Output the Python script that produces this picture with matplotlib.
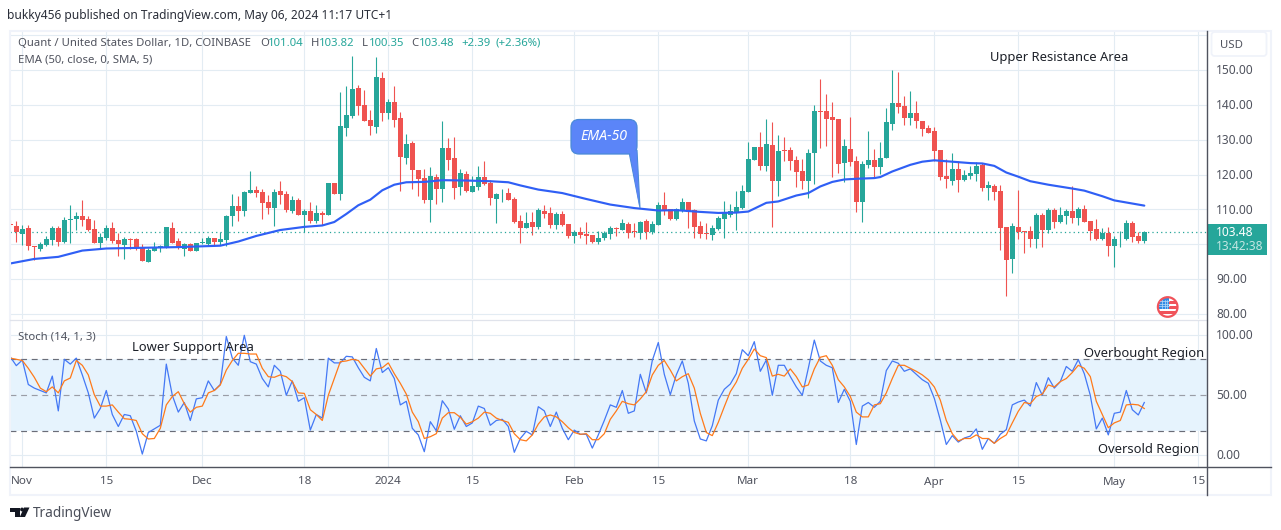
"""Quant / USD daily candles with EMA-50 and a stochastic pane, TradingView style."""

import numpy as np
import pandas as pd
import matplotlib
matplotlib.use("Agg")
import matplotlib.pyplot as plt
from matplotlib.patches import FancyBboxPatch, Polygon, Circle, Rectangle

plt.rcParams["font.family"] = ["Noto Sans", "DejaVu Sans"]

start_date = "2023-10-30"

opens = [
    105.6, 105.3, 103.1, 104.8, 99.6, 98.7, 99.9, 101.3, 104.8, 100.7,
    106.9, 107.3, 108.2, 107.3, 104.5, 100.4, 101.9, 104.8, 101.3, 99.9,
    101.6, 101.6, 99.3, 95.0, 98.1, 99.0, 99.0, 104.8, 101.0, 98.7,
    100.2, 98.2, 100.3, 100.2, 101.9, 100.7, 101.3, 108.0, 111.1, 109.6,
    114.8, 115.7, 115.1, 112.2, 110.5, 115.4, 114.5, 109.6, 112.8, 108.5,
    109.6, 106.8, 109.1, 108.5, 117.7, 114.5, 133.5, 136.9, 144.9, 140.1,
    135.8, 133.7, 147.8, 137.8, 140.9, 136.3, 124.8, 129.2, 121.4, 119.1,
    112.8, 119.4, 116.0, 127.7, 124.9, 116.5, 120.3, 115.1, 116.5, 119.4,
    117.7, 113.1, 114.6, 114.8, 113.1, 106.8, 104.8, 106.5, 105.0, 109.6,
    109.1, 105.6, 108.8, 105.9, 102.5, 103.6, 103.0, 102.7, 100.7, 101.9,
    103.0, 104.5, 104.2, 105.9, 103.9, 103.3, 106.8, 103.6, 105.6, 111.4,
    110.2, 107.3, 109.6, 112.2, 109.9, 105.3, 103.3, 102.7, 104.5, 107.3,
    108.5, 109.1, 110.5, 115.1, 124.3, 128.0, 122.6, 128.6, 118.2, 127.2,
    127.2, 124.3, 121.1, 118.2, 126.3, 138.3, 138.3, 136.6, 136.0, 123.4,
    127.4, 124.0, 112.2, 122.8, 124.3, 122.3, 124.9, 134.6, 140.4, 139.8,
    136.3, 137.8, 135.5, 133.5, 132.6, 127.2, 119.7, 118.2, 121.7, 118.5,
    119.7, 120.3, 122.8, 116.2, 116.8, 115.4, 105.0, 95.9, 105.0, 103.8,
    103.9, 101.6, 108.5, 104.2, 109.9, 106.5, 108.2, 109.6, 107.6, 110.2,
    106.8, 104.5, 101.6, 103.3, 99.6, 101.7, 101.6, 106.2, 102.5, 101.04,
]
highs = [
    107.0, 106.6, 105.6, 105.6, 99.6, 100.6, 102.3, 105.2, 105.2, 107.7,
    111.4, 109.4, 112.8, 108.2, 107.0, 103.2, 105.6, 106.3, 103.2, 102.1,
    101.8, 101.8, 100.2, 98.9, 100.7, 99.9, 105.0, 106.3, 101.8, 100.4,
    100.4, 100.4, 101.8, 102.5, 101.9, 103.6, 108.5, 114.5, 113.9, 115.4,
    121.1, 116.8, 115.9, 114.2, 116.0, 118.2, 115.4, 113.9, 113.3, 110.2,
    112.2, 111.4, 109.6, 117.7, 117.7, 143.8, 145.3, 154.1, 145.8, 144.4,
    138.6, 153.6, 149.5, 141.8, 145.5, 138.1, 131.7, 129.7, 121.4, 121.7,
    122.3, 120.3, 135.5, 130.6, 130.9, 121.7, 121.1, 119.7, 122.6, 124.0,
    118.5, 114.8, 116.0, 116.2, 113.7, 108.5, 109.3, 109.3, 110.5, 111.4,
    110.8, 109.3, 109.6, 105.9, 104.2, 105.0, 106.5, 102.7, 103.9, 103.9,
    105.3, 105.0, 107.3, 106.5, 106.2, 106.8, 107.3, 106.8, 112.2, 115.1,
    110.2, 110.5, 113.4, 112.2, 110.2, 106.8, 106.2, 105.6, 108.2, 112.5,
    111.6, 115.4, 117.1, 129.4, 128.0, 132.3, 136.0, 135.2, 131.4, 130.9,
    128.0, 125.4, 124.6, 127.4, 140.1, 147.5, 143.2, 140.9, 136.0, 130.3,
    136.6, 125.4, 124.0, 132.6, 127.4, 129.4, 139.2, 150.1, 149.5, 142.6,
    144.1, 141.2, 135.5, 134.3, 133.7, 127.2, 124.6, 126.3, 124.0, 121.4,
    122.6, 123.7, 123.4, 118.2, 117.4, 117.1, 105.0, 106.2, 115.7, 103.8,
    105.3, 109.1, 109.1, 110.5, 110.5, 110.8, 110.2, 116.8, 110.8, 111.4,
    106.8, 107.3, 104.8, 105.0, 102.5, 103.9, 107.0, 106.8, 103.6, 103.82,
]
lows = [
    105.2, 100.7, 99.9, 98.4, 95.6, 98.2, 99.4, 99.9, 99.4, 100.3,
    100.5, 104.2, 105.3, 103.9, 100.4, 98.6, 101.3, 100.3, 96.7, 95.9,
    98.7, 98.4, 95.1, 95.0, 98.0, 97.7, 99.0, 100.3, 98.7, 96.7,
    98.0, 98.0, 100.2, 99.4, 99.6, 99.9, 99.4, 105.3, 106.6, 108.2,
    114.7, 113.5, 107.3, 108.8, 105.3, 111.6, 109.4, 109.0, 108.5, 103.6,
    106.2, 106.1, 105.6, 108.5, 114.5, 112.8, 131.2, 136.3, 137.2, 135.5,
    131.5, 132.0, 135.5, 136.0, 133.7, 115.4, 123.1, 116.0, 113.9, 111.9,
    106.5, 111.6, 112.2, 121.4, 113.1, 114.2, 115.1, 115.1, 115.7, 117.1,
    111.4, 106.2, 112.2, 112.8, 106.2, 100.4, 104.6, 102.7, 104.5, 107.6,
    104.8, 104.5, 105.2, 101.9, 100.4, 101.9, 100.2, 100.4, 100.2, 101.3,
    101.6, 102.5, 104.2, 101.9, 102.2, 101.6, 101.6, 103.0, 105.6, 108.5,
    107.0, 107.0, 109.3, 104.8, 101.9, 101.9, 101.6, 101.3, 104.2, 101.9,
    107.9, 104.2, 110.2, 115.1, 124.3, 121.4, 121.1, 105.0, 113.9, 124.0,
    121.4, 116.5, 116.0, 113.4, 117.4, 127.7, 128.3, 119.4, 120.4, 118.0,
    122.6, 109.4, 106.5, 122.0, 119.1, 120.3, 124.9, 132.9, 137.8, 134.3,
    134.3, 133.5, 131.2, 132.0, 124.0, 118.5, 116.2, 117.1, 115.1, 118.2,
    118.8, 118.2, 115.4, 112.8, 112.8, 98.4, 85.2, 91.8, 101.6, 97.6,
    99.3, 99.0, 99.3, 103.3, 104.8, 106.2, 105.9, 106.2, 105.6, 106.5,
    101.3, 101.3, 101.3, 96.7, 93.6, 99.3, 101.3, 100.7, 100.4, 100.35,
]
closes = [
    105.5, 103.4, 104.5, 99.4, 99.2, 100.2, 101.6, 104.8, 100.7, 107.0,
    107.3, 108.2, 107.0, 104.2, 100.4, 102.2, 104.8, 101.0, 100.2, 101.6,
    101.3, 99.0, 95.1, 98.4, 99.0, 99.6, 105.0, 100.4, 99.0, 100.2,
    98.2, 100.4, 100.4, 101.9, 100.7, 101.6, 108.2, 111.1, 109.6, 115.1,
    115.7, 114.8, 111.9, 110.5, 115.1, 114.2, 109.8, 112.8, 108.5, 109.6,
    106.8, 109.1, 108.5, 117.7, 114.5, 134.0, 137.2, 144.7, 139.8, 135.5,
    134.0, 148.1, 137.8, 140.9, 135.8, 125.1, 128.9, 121.4, 118.8, 112.8,
    119.7, 116.0, 127.7, 124.3, 116.2, 120.5, 115.4, 116.8, 119.4, 117.4,
    113.4, 114.5, 114.8, 112.8, 106.5, 104.8, 106.2, 105.0, 109.9, 108.8,
    105.6, 108.8, 105.6, 102.5, 103.6, 102.7, 102.5, 100.7, 101.9, 103.3,
    104.8, 104.3, 106.2, 103.3, 103.6, 106.5, 103.6, 105.9, 111.4, 109.6,
    107.3, 110.2, 112.2, 109.3, 105.0, 103.0, 103.0, 104.8, 107.6, 109.1,
    109.6, 110.8, 115.4, 124.6, 128.0, 122.6, 128.9, 118.2, 126.9, 126.9,
    124.0, 120.8, 118.2, 126.3, 138.3, 138.1, 136.0, 135.8, 123.1, 128.3,
    123.7, 112.2, 123.1, 124.3, 122.3, 124.9, 135.2, 140.4, 139.5, 136.3,
    137.8, 135.5, 133.2, 132.0, 126.9, 119.4, 118.8, 121.7, 118.5, 119.9,
    120.5, 122.6, 116.2, 117.1, 115.1, 104.8, 95.6, 105.3, 103.6, 103.6,
    101.6, 108.5, 104.2, 109.9, 106.5, 108.5, 109.6, 107.6, 110.2, 106.5,
    103.9, 101.6, 103.3, 99.6, 101.6, 101.9, 106.2, 102.2, 101.0, 103.48,
]

# EMA vertices (bar number, price)
ema_bars = [0, 4, 8, 12, 16, 22, 28, 35, 38, 41, 45, 49, 52, 54, 56, 58, 60, 62, 64, 66, 69,
            72, 76, 80, 83, 85, 88, 92, 96, 100, 104, 108, 111, 115, 118, 121, 123, 126, 128,
            131, 133, 135, 137, 139, 141, 144, 145, 147, 150, 152, 154, 157, 160, 162, 164,
            166, 168, 170, 173, 177, 179, 182, 184, 186, 189]
ema_values = [94.5, 95.8, 96.4, 98.2, 98.8, 99.0, 99.2, 99.6, 100.8, 102.4, 104.1, 105.0, 105.4,
              106.4, 108.7, 111.2, 112.8, 115.5, 117.1, 117.8, 117.9,
              118.4, 118.3, 118.1, 117.8, 116.9, 115.7, 114.7, 113.0, 111.4, 110.4, 109.7, 109.8,
              109.3, 109.0, 109.1, 109.4, 111.9, 112.3, 114.0, 114.7, 116.6, 117.9, 118.6,
              118.8, 119.0, 119.3, 120.9, 122.8, 123.7, 124.1, 123.7, 123.3, 123.2, 122.5,
              120.6, 119.4, 118.1, 117.1, 116.0, 115.4, 113.8, 112.6, 112.0, 111.1]

stoch_k = [
    82, 74.7, 79.4, 59, 56, 54, 52, 66, 37, 80,
    76, 81, 67, 52, 31, 39, 54, 34, 24, 34,
    33, 20, 1, 19, 22, 25, 76, 50, 36, 44,
    29, 47, 48, 62, 54, 59, 99, 81, 75, 100,
    78, 76, 64, 57, 75, 70, 50, 62, 45, 48,
    21, 34, 31, 81, 77, 77, 82.5, 82, 73, 65,
    62, 89, 69, 73, 64, 42, 45, 22.5, 17, 3,
    28, 20.5, 45.5, 38.6, 21.7, 33, 24, 27, 41, 39,
    25, 29, 30, 24, 2.5, 14, 20, 17, 40.5, 37,
    24, 36, 22.5, 13, 21, 17.5, 17.5, 6, 17, 29,
    42, 40, 54, 35, 37, 67.5, 52, 79, 94, 67.5,
    50.5, 67, 78.6, 60, 28.6, 13.6, 12, 24.7, 46, 55,
    59.4, 68, 88, 83, 94.7, 70, 79.4, 50, 75, 75,
    65.6, 57, 50, 72.5, 96, 78.6, 75, 73, 44, 55,
    45, 9, 41, 44, 40, 45, 70.6, 78.6, 76.7, 70,
    72, 67.5, 63, 60, 47.5, 29.4, 9, 16.4, 11, 14.4,
    16, 22, 5, 14, 10, 17.5, 21.4, 42, 44.4, 46,
    41, 60.6, 50, 64.7, 56, 61.4, 74, 70, 79.7, 68,
    50, 22, 31, 17, 35, 36, 54, 38, 33.6, 44,
]
stoch_d = [
    81, 80, 79, 72.5, 65, 56, 53, 57, 52, 62,
    64.4, 79, 75, 67, 50.5, 41, 41, 42, 36, 30.5,
    30, 29, 18, 13.6, 14, 22.5, 42, 49, 53, 43,
    36, 40, 41, 52, 54, 58.6, 71, 79, 85, 85,
    84.4, 84.4, 72.5, 65.5, 65, 67, 65.5, 61.4, 52, 51.6,
    38, 34, 29, 50, 64, 78, 78.6, 80, 79, 72.5,
    66, 72, 73, 77, 68, 60, 51, 36, 28, 14,
    15.5, 18, 31, 35.5, 35.5, 31.7, 26, 28, 31, 36,
    35, 31, 29, 27.5, 18, 13, 12, 17, 26, 32,
    33.6, 32, 28, 23, 19, 17.5, 18, 13, 13, 18,
    30, 37, 45, 43, 42, 47, 53, 67, 75, 79,
    71, 62, 65.5, 68, 56, 35, 19, 16.4, 27.5, 40.5,
    53, 61, 72.5, 80, 88.6, 83, 81.4, 66, 67.5, 66,
    72, 65.6, 57, 58.6, 72, 81.7, 83, 75, 63, 57,
    49, 36, 32, 32, 42, 43, 52, 64, 75, 75,
    72.5, 70, 67, 63, 57, 46, 29, 18, 12, 14,
    14, 17, 14, 14, 10, 14, 17, 27, 36.7, 44,
    43, 49, 51, 58.6, 57, 61.4, 64, 69, 75, 72.5,
    65.6, 45, 34, 23, 27, 29, 42, 42.5, 42, 39,
]

price_ticks = [150, 140, 130, 120, 110, 100, 90, 80]
# 100.00 sits behind the last price tag, so it gets no label
price_labels = [150, 140, 130, 120, 110, 90, 80]
stoch_ticks = [100, 50, 0]
tick_dates = ["2023-11-01", "2023-11-15", "2023-12-01", "2023-12-18", "2024-01-01", "2024-01-15",
              "2024-02-01", "2024-02-15", "2024-03-01", "2024-03-18", "2024-04-01", "2024-04-15",
              "2024-05-01", "2024-05-15"]
tick_labels = ["Nov", "15", "Dec", "18", "2024", "15", "Feb", "15", "Mar", "18", "Apr", "15", "May", "15"]

GREEN = "#26a69a"
RED = "#ef5350"
GRID = "#e3ecf3"
FRAME = "#f0f3fa"
AXIS = "#50535e"
TEXT = "#50535e"
W, H = 1281, 530


def pane(x0, y0, x1, y1):
    """Axes placed by pixel box, y measured from the top."""
    ax = fig.add_axes([x0 / W, 1 - y1 / H, (x1 - x0) / W, (y1 - y0) / H])
    for s in ax.spines.values():
        s.set_visible(False)
    ax.set_yticks([])
    ax.tick_params(length=0, labelbottom=False)
    ax.set_xlim(-0.05, 199.45)
    ax.set_xticks(tick_x)
    ax.grid(True, axis="x", color=GRID, lw=0.8, zorder=0)
    ax.set_axisbelow(True)
    return ax


fig = plt.figure(figsize=(12.81, 5.30), dpi=100, facecolor="white")

bars = np.arange(len(opens))
first = pd.Timestamp(start_date)
tick_x = [(pd.Timestamp(d) - first).days for d in tick_dates]

# candles
ax = pane(10, 31, 1207, 319)
ax.set_ylim(78.57, 161.2)
for p in [160] + price_ticks:
    ax.axhline(p, color=GRID, lw=0.8, zorder=0)

o = np.array(opens)
c = np.array(closes)
colors = np.where(c >= o, GREEN, RED)
ax.vlines(bars, lows, highs, colors=colors, lw=0.8, zorder=2)
body_low = np.minimum(o, c)
body_h = np.maximum(np.abs(c - o), 0.25)
ax.bar(bars, body_h, bottom=body_low, width=0.8, color=colors, lw=0, zorder=3)
ax.axhline(closes[-1], color=GREEN, lw=0.9, ls=(0, (1, 2.5)), zorder=2)
ax.plot(ema_bars, ema_values, color="#2f5ff5", lw=1.55, zorder=4, solid_capstyle="round")

# stochastic
ax2 = pane(10, 320, 1207, 467)
ax2.set_ylim(-9.75, 112.75)
for p in stoch_ticks:
    if p != 50:
        ax2.axhline(p, color=GRID, lw=0.8, zorder=0)
ax2.axhspan(20, 80, color="#e6f3fd", lw=0, zorder=1)
ax2.grid(True, axis="x", color=GRID, lw=0.8, zorder=2)
ax2.axhline(80, color="#6a6d78", lw=0.85, ls=(0, (5, 4)), zorder=2)
ax2.axhline(50, color="#9a9da6", lw=0.85, ls=(0, (5, 4)), zorder=2)
ax2.axhline(20, color="#6a6d78", lw=0.85, ls=(0, (5, 4)), zorder=2)
ax2.plot(bars, stoch_k, color="#4478f5", lw=0.9, zorder=3)
ax2.plot(bars, stoch_d, color="#ff7a1a", lw=0.9, zorder=4)

# overlay in pixel coordinates for frame, labels and drawings
ov = fig.add_axes([0, 0, 1, 1], facecolor="none")
ov.set_xlim(0, W)
ov.set_ylim(H, 0)
ov.axis("off")

ov.add_patch(Rectangle((10, 30.5), 1261, 464.5, fill=False, ec=FRAME, lw=1.5))
ov.plot([10, 1207], [319.5, 319.5], color="#e0e3eb", lw=0.9)
ov.plot([10, 1271], [467.3, 467.3], color=AXIS, lw=1.0)
ov.plot([1207.3, 1207.3], [31, 495], color=AXIS, lw=1.0)

ov.text(7, 15, "bukky456 published on TradingView.com, May 06, 2024 11:17 UTC+1",
        fontsize=8.6, color="#2a2e39", va="center")
ov.text(18, 43, "Quant / United States Dollar, 1D, COINBASE", fontsize=8.15, color=TEXT, va="center")
for x, s, col in [(260, "O", TEXT), (268, "101.04", GREEN), (311, "H", TEXT), (319, "103.82", GREEN),
                  (362, "L", TEXT), (369, "100.35", GREEN), (411, "C", TEXT), (419, "103.48", GREEN),
                  (461, "+2.39", GREEN), (495, "(+2.36%)", GREEN)]:
    ov.text(x, 43, s, fontsize=8.15, color=col, va="center")
ov.text(18, 60, "EMA (50, close, 0, SMA, 5)", fontsize=8.15, color=TEXT, va="center")
ov.text(18, 337, "Stoch (14, 1, 3)", fontsize=8.15, color=TEXT, va="center")

for x, y, s in [(990, 58, "Upper Resistance Area"), (132, 348, "Lower Support Area"),
                (1084.5, 353.5, "Overbought Region"), (1098, 449.5, "Oversold Region")]:
    ov.text(x, y, s, fontsize=9.35, color="#1d2129", va="center")

for p in price_labels:
    ov.text(1216, 70.7 + (150 - p) * 3.486, f"{p:.2f}", fontsize=8.6, color=TEXT, va="center")
for p in stoch_ticks:
    ov.text(1216, 455.5 - p * 1.2, f"{p:.2f}", fontsize=8.6, color=TEXT, va="center")
for t, s in zip(tick_x, tick_labels):
    ov.text(10.3 + t * 6, 482, s, fontsize=8.4, color=TEXT, ha="center", va="center",
            fontweight="bold" if s == "2024" else "normal")

# USD button and last price tag
ov.add_patch(FancyBboxPatch((1211.5, 32), 55, 24, boxstyle="round,pad=0,rounding_size=3",
                            fc="white", ec=FRAME, lw=1.3))
ov.text(1220, 45.5, "USD", fontsize=8.2, color=TEXT, va="center")
ov.add_patch(Rectangle((1207.5, 224), 59.5, 31, fc=GREEN, ec="none"))
ov.text(1216, 232.5, "103.48", fontsize=8.6, color="white", va="center", fontweight="bold")
ov.text(1216, 247, "13:42:38", fontsize=8.6, color="#c4e6e2", va="center")

# EMA-50 callout
ov.add_patch(Polygon([(629, 152), (640, 208), (637, 150)], closed=True, fc="#5b85f8", ec="#4a8ad8", lw=0.8))
ov.add_patch(FancyBboxPatch((571, 119.5), 66, 34.5, boxstyle="round,pad=0,rounding_size=8",
                            fc="#5b85f8", ec="#4a8ad8", lw=0.9))
ov.add_patch(Polygon([(630, 153), (639, 205), (636.4, 150)], closed=True, fc="#5b85f8", ec="none"))
ov.text(604, 136.5, "EMA-50", fontsize=10.2, color="white", ha="center", va="center",
        fontweight="bold", style="italic")

# flag icon, clipped to its disc
disc = Circle((1167.7, 307), 9.6, fc="white", ec="none")
ov.add_patch(disc)
flag_parts = [Rectangle((1158, 301), 20, 2.6, fc="#f0535a", ec="none"),
              Rectangle((1158, 306), 20, 2.6, fc="#f0535a", ec="none"),
              Rectangle((1158, 311), 20, 2.6, fc="#f0535a", ec="none"),
              Rectangle((1158, 297), 11, 11.5, fc="#2f8be6", ec="none")]
for part in flag_parts:
    ov.add_patch(part)
    part.set_clip_path(disc)
for gx in [1162, 1164.5, 1167]:
    ov.plot([gx, gx], [299.5, 308], color="#bcdcf8", lw=0.5, clip_path=disc)
for gy in [301, 303.5, 306]:
    ov.plot([1158.5, 1169], [gy, gy], color="#bcdcf8", lw=0.5, clip_path=disc)
ov.add_patch(Circle((1167.7, 307), 9.8, fc="none", ec="#f0535a", lw=1.6))

# TradingView logo
ov.add_patch(Polygon([(10, 507.5), (19.5, 507.5), (19.5, 517), (14.5, 517), (14.5, 511.5), (10, 511.5)],
                     closed=True, fc="#131722", ec="none"))
ov.add_patch(Circle((22, 509.5), 1.9, fc="#131722", ec="none"))
ov.add_patch(Polygon([(24, 507.5), (29.5, 507.5), (25, 517), (19.8, 517)], closed=True, fc="#131722", ec="none"))
ov.text(33, 513.5, "TradingView", fontsize=9.8, color="#4a4e59", va="center")

fig.savefig("out.png", dpi=100)
